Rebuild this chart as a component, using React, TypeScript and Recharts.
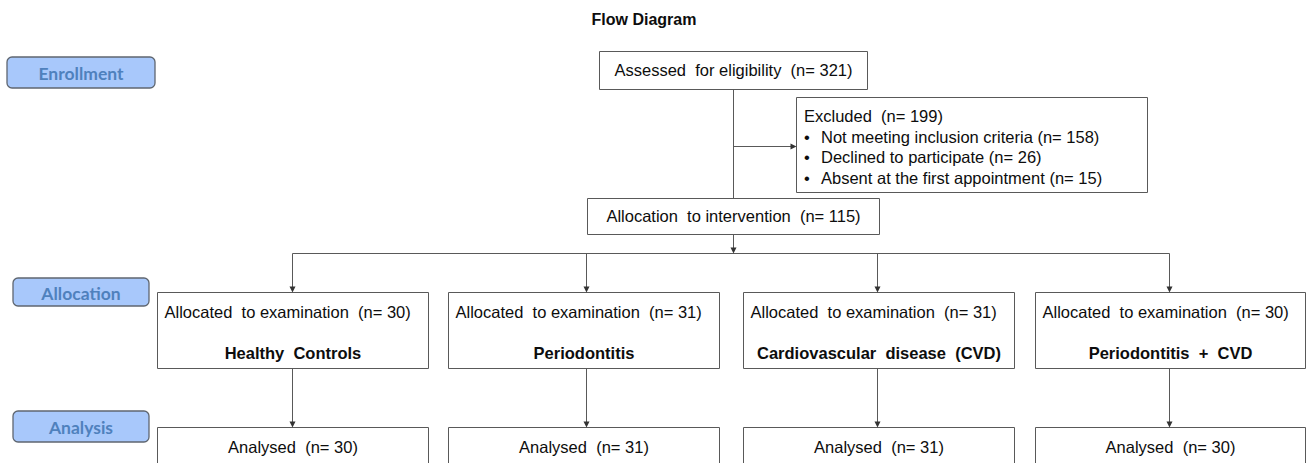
import { ReferenceArea, ReferenceLine, Scatter, ScatterChart, XAxis, YAxis } from "recharts";

const title = "Flow Diagram";
const phases = ["Enrollment", "Allocation", "Analysis"];
const assessedCount = 321;
const excludedCount = 199;
const excludedReasons = [
  "Not meeting inclusion criteria",
  "Declined to participate",
  "Absent at the first appointment",
];
const excludedCounts = [158, 26, 15];
const allocationCount = 115;
const groups = [
  "Healthy Controls",
  "Periodontitis",
  "Cardiovascular disease (CVD)",
  "Periodontitis + CVD",
];
const allocatedCounts = [30, 31, 31, 30];
const analysedCounts = [30, 31, 31, 30];

// layout, in diagram units (the axes map 1 unit to 1px)
const W = 1306;
const H = 463;
const phaseBoxes = [
  { x1: 7, x2: 155, y1: 57, y2: 88 },
  { x1: 13, x2: 149, y1: 278, y2: 306 },
  { x1: 13, x2: 149, y1: 411, y2: 442 },
];
const spineX = 733.5;
const assessedBox = { x1: 599.5, x2: 867.5, y1: 51.5, y2: 89.5 };
const excludedBox = { x1: 796.5, x2: 1147.5, y1: 97.5, y2: 192.5 };
const allocationBox = { x1: 587.5, x2: 879.5, y1: 198.5, y2: 234.5 };
const splitY = 253.5;
const columnX = [292.5, 586.5, 877.5, 1169.5];
const columnEdges = [
  [157.5, 428.5],
  [448.5, 719.5],
  [743.5, 1014.5],
  [1035.5, 1305.5],
];
const allocatedTop = 292.5;
const allocatedBottom = 368.5;
const analysedTop = 427.5;

const LINE = "#595959";
const TEXT = "#0d0d0d";
const FONT = "'Liberation Sans', Arial, sans-serif";
const BODY = 16.5;

type Label = {
  x: number;
  y: number;
  text: string;
  anchor?: "start" | "middle" | "end";
  bold?: boolean;
  size?: number;
  color?: string;
  family?: string;
};

function TextMark(props: any) {
  const { cx, cy, payload } = props;
  const p = payload as Label;
  return (
    <text
      x={cx}
      y={cy}
      textAnchor={p.anchor ?? "start"}
      dominantBaseline="central"
      fontFamily={p.family ?? FONT}
      fontSize={p.size ?? BODY}
      fontWeight={p.bold ? 700 : 400}
      fill={p.color ?? TEXT}
      style={{ whiteSpace: "pre" }}
    >
      {p.text}
    </text>
  );
}

function ArrowMark(props: any) {
  const { cx, cy, payload } = props;
  const d =
    payload.dir === "right"
      ? `M${cx - 6},${cy - 3} L${cx - 6},${cy + 3} L${cx},${cy} Z`
      : `M${cx - 3},${cy - 6} L${cx + 3},${cy - 6} L${cx},${cy} Z`;
  return <path d={d} fill="#333" stroke="none" />;
}

export default function App() {
  const labels: Label[] = [
    { x: 644, y: 19, text: title, anchor: "middle", bold: true, size: 16 },
    {
      x: spineX,
      y: 70,
      text: `Assessed  for eligibility  (n= ${assessedCount})`,
      anchor: "middle",
    },
    { x: 804, y: 116, text: `Excluded  (n= ${excludedCount})` },
    ...excludedReasons.flatMap((reason, i) => [
      { x: 804, y: 136.5 + i * 20.5, text: "•" },
      { x: 821, y: 136.5 + i * 20.5, text: `${reason} (n= ${excludedCounts[i]})` },
    ]),
    {
      x: spineX,
      y: 216,
      text: `Allocation  to intervention  (n= ${allocationCount})`,
      anchor: "middle",
    },
    ...groups.flatMap((group, i) => [
      {
        x: columnEdges[i][0] + 7,
        y: 312,
        text: `Allocated  to examination  (n= ${allocatedCounts[i]})`,
      },
      {
        x: (columnEdges[i][0] + columnEdges[i][1]) / 2,
        y: 353,
        text: group.replace(/ /g, "  "),
        anchor: "middle" as const,
        bold: true,
      },
      {
        x: (columnEdges[i][0] + columnEdges[i][1]) / 2,
        y: 447,
        text: `Analysed  (n= ${analysedCounts[i]})`,
        anchor: "middle" as const,
      },
    ]),
    ...phases.map((phase, i) => ({
      x: (phaseBoxes[i].x1 + phaseBoxes[i].x2) / 2,
      y: (phaseBoxes[i].y1 + phaseBoxes[i].y2) / 2 + 1,
      text: phase,
      anchor: "middle" as const,
      bold: true,
      size: 17.5,
      color: "#4f81bd",
      family: "Lato, 'Open Sans', sans-serif",
    })),
  ];

  const arrows = [
    { x: excludedBox.x1, y: 146.5, dir: "right" },
    { x: spineX, y: splitY, dir: "down" },
    ...columnX.map((x) => ({ x, y: allocatedTop, dir: "down" })),
    ...columnX.map((x) => ({ x, y: analysedTop, dir: "down" })),
  ];

  const segments: { x: number; y: number }[][] = [
    [
      { x: spineX, y: assessedBox.y2 },
      { x: spineX, y: allocationBox.y1 },
    ],
    [
      { x: spineX, y: 146.5 },
      { x: excludedBox.x1 - 5, y: 146.5 },
    ],
    [
      { x: spineX, y: allocationBox.y2 },
      { x: spineX, y: splitY - 5 },
    ],
    [
      { x: columnX[0], y: splitY },
      { x: columnX[3], y: splitY },
    ],
    ...columnX.flatMap((x) => [
      [
        { x, y: splitY },
        { x, y: allocatedTop - 5 },
      ],
      [
        { x, y: allocatedBottom },
        { x, y: analysedTop - 5 },
      ],
    ]),
  ];

  const boxes = [
    assessedBox,
    excludedBox,
    allocationBox,
    ...columnEdges.map(([x1, x2]) => ({ x1, x2, y1: allocatedTop, y2: allocatedBottom })),
    ...columnEdges.map(([x1, x2]) => ({ x1, x2, y1: analysedTop, y2: H + 20 })),
  ];

  return (
    <div style={{ position: "absolute", left: 0, top: 0, background: "#fff" }}>
      <ScatterChart width={W} height={H} margin={{ top: 0, right: 0, bottom: 0, left: 0 }}>
        <XAxis type="number" dataKey="x" domain={[0, W]} allowDataOverflow hide />
        <YAxis type="number" dataKey="y" domain={[0, H]} allowDataOverflow reversed hide />
        {phaseBoxes.map((b, i) => (
          <ReferenceArea
            key={`p${i}`}
            {...b}
            fill="#a8c8fb"
            fillOpacity={1}
            stroke="#5f6670"
            strokeWidth={1.3}
            radius={5}
            ifOverflow="visible"
          />
        ))}
        {boxes.map((b, i) => (
          <ReferenceArea
            key={`b${i}`}
            {...b}
            fill="#ffffff"
            fillOpacity={1}
            stroke={LINE}
            strokeWidth={1}
            ifOverflow="visible"
          />
        ))}
        {segments.map((seg, i) => (
          <ReferenceLine
            key={`s${i}`}
            segment={seg}
            stroke={LINE}
            strokeWidth={1}
            ifOverflow="visible"
          />
        ))}
        <Scatter data={arrows} shape={ArrowMark} isAnimationActive={false} />
        <Scatter data={labels} shape={TextMark} isAnimationActive={false} />
      </ScatterChart>
    </div>
  );
}
